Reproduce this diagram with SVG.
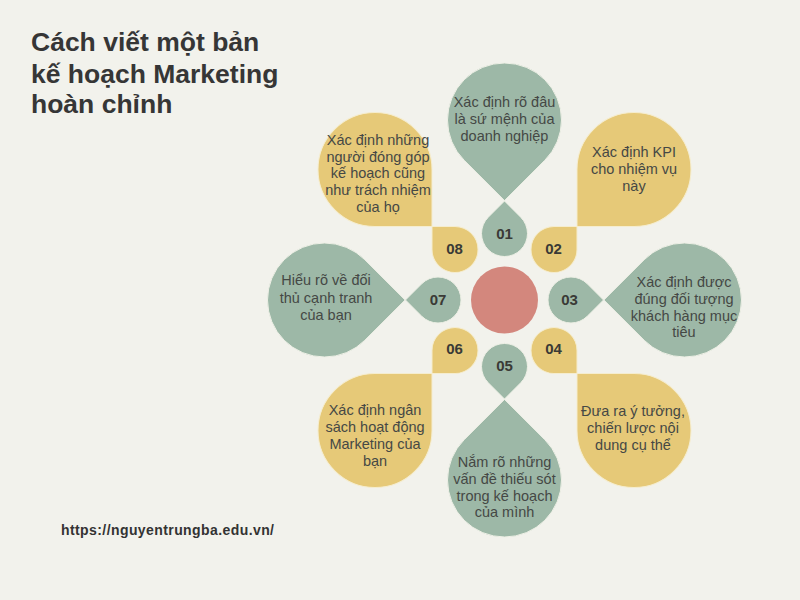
<svg xmlns="http://www.w3.org/2000/svg" xmlns:xlink="http://www.w3.org/1999/xlink" width="800" height="600" viewBox="0 0 800 600">
<defs>
<path id="st" d="M0,-32.53 L16.26,-16.26 A23,23 0 1 1 -16.26,-16.26 Z"/>
<path id="bt" d="M0,-80.61 L40.31,-40.31 A57,57 0 1 1 -40.31,-40.31 Z"/>
<style>
.g{fill:#9db8a7;stroke:#eef0e6;stroke-width:1}
.y{fill:#e6c978;stroke:#f5edcf;stroke-width:1}
.t{font-family:"Liberation Sans",Arial,sans-serif;font-size:14.5px;fill:#454845;text-anchor:middle}
.n{font-family:"Liberation Sans",Arial,sans-serif;font-size:15px;font-weight:bold;fill:#3a3a36;text-anchor:middle}
.title{font-family:"Liberation Sans",Arial,sans-serif;font-size:26.5px;font-weight:bold;fill:#363636}
.url{font-family:"Liberation Sans",Arial,sans-serif;font-size:14px;font-weight:bold;fill:#333}
</style>
</defs>
<rect width="800" height="600" fill="#f2f2ec"/>
<g id="title">
<text class="title" x="31" y="51">Cách viết một bản</text>
<text class="title" x="31" y="82.5">kế hoạch Marketing</text>
<text class="title" x="31" y="113">hoàn chỉnh</text>
</g>
<g id="connectors"></g>
<g id="center"><circle cx="504.5" cy="300" r="33.5" fill="#d3877d"/></g>
<g id="node01">
<use href="#bt" class="g" transform="translate(504.5,120) rotate(180)"/>
<use href="#st" class="g" transform="translate(504.5,233.5)"/>
<text class="t" x="504.5" y="107">Xác định rõ đâu</text>
<text class="t" x="504.5" y="124">là sứ mệnh của</text>
<text class="t" x="504.5" y="141">doanh nghiệp</text>
<text class="n" x="504.5" y="238.5">01</text>
</g>
<g id="node02">
<use href="#bt" class="y" transform="translate(634,169.5) rotate(225)"/>
<use href="#st" class="y" transform="translate(554,249.5) rotate(45)"/>
<text class="t" x="634" y="157">Xác định KPI</text>
<text class="t" x="634" y="174">cho nhiệm vụ</text>
<text class="t" x="634" y="191">này</text>
<text class="n" x="553.5" y="254">02</text>
</g>
<g id="node03">
<use href="#bt" class="g" transform="translate(684.5,300) rotate(270)"/>
<use href="#st" class="g" transform="translate(571,300) rotate(90)"/>
<text class="t" x="684" y="287">Xác định được</text>
<text class="t" x="684" y="304">đúng đối tượng</text>
<text class="t" x="684" y="320.5">khách hàng mục</text>
<text class="t" x="684" y="337">tiêu</text>
<text class="n" x="569.5" y="305">03</text>
</g>
<g id="node04">
<use href="#bt" class="y" transform="translate(634,430.5) rotate(315)"/>
<use href="#st" class="y" transform="translate(554,350.5) rotate(135)"/>
<text class="t" x="633" y="416">Đưa ra ý tưởng,</text>
<text class="t" x="633" y="433">chiến lược nội</text>
<text class="t" x="633" y="449.5">dung cụ thể</text>
<text class="n" x="553.5" y="354">04</text>
</g>
<g id="node05">
<use href="#bt" class="g" transform="translate(504.5,480)"/>
<use href="#st" class="g" transform="translate(504.5,366.5) rotate(180)"/>
<text class="t" x="504.5" y="467">Nắm rõ những</text>
<text class="t" x="504.5" y="484">vấn đề thiếu sót</text>
<text class="t" x="504.5" y="500.5">trong kế hoạch</text>
<text class="t" x="504.5" y="517">của mình</text>
<text class="n" x="504.5" y="370.5">05</text>
</g>
<g id="node06">
<use href="#bt" class="y" transform="translate(375,430.5) rotate(45)"/>
<use href="#st" class="y" transform="translate(455,350.5) rotate(225)"/>
<text class="t" x="375" y="415">Xác định ngân</text>
<text class="t" x="375" y="432">sách hoạt động</text>
<text class="t" x="375" y="449">Marketing của</text>
<text class="t" x="375" y="466">bạn</text>
<text class="n" x="454.5" y="354">06</text>
</g>
<g id="node07">
<use href="#bt" class="g" transform="translate(324.5,300) rotate(90)"/>
<use href="#st" class="g" transform="translate(438,300) rotate(270)"/>
<text class="t" x="326" y="285">Hiểu rõ về đối</text>
<text class="t" x="326" y="302.5">thủ cạnh tranh</text>
<text class="t" x="326" y="320">của bạn</text>
<text class="n" x="438" y="305">07</text>
</g>
<g id="node08">
<use href="#bt" class="y" transform="translate(375,169.5) rotate(135)"/>
<use href="#st" class="y" transform="translate(455,249.5) rotate(315)"/>
<text class="t" x="378" y="145">Xác định những</text>
<text class="t" x="378" y="161.7">người đóng góp</text>
<text class="t" x="378" y="178.3">kế hoạch cũng</text>
<text class="t" x="378" y="195">như trách nhiệm</text>
<text class="t" x="378" y="211.7">của họ</text>
<text class="n" x="454.5" y="254">08</text>
</g>
<g id="footer">
<text class="url" x="61" y="535" textLength="213" lengthAdjust="spacing">https://nguyentrungba.edu.vn/</text>
</g>
</svg>
